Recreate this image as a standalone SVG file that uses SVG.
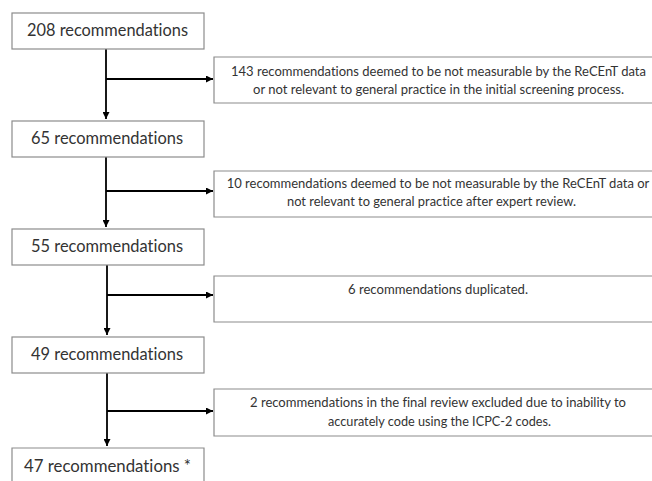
<svg xmlns="http://www.w3.org/2000/svg" width="652" height="481" viewBox="0 0 652 481">
<defs>
<marker id="ah" viewBox="0 0 10 10" refX="10" refY="5" markerWidth="8" markerHeight="7" markerUnits="userSpaceOnUse" orient="auto">
<path d="M0,0 L10,5 L0,10 z" fill="#000"/>
</marker>
<style>
.box{fill:#fff;stroke:#8c8c8c;stroke-width:1.2}
.main{font-family:Lato,"Liberation Sans",sans-serif;font-size:16.5px;fill:#333;text-anchor:middle;font-variant-ligatures:none}
.side{font-family:Lato,"Liberation Sans",sans-serif;font-size:13px;fill:#333;text-anchor:middle;font-variant-ligatures:none}
.con{stroke:#000;stroke-width:1.8;fill:none}
</style>
</defs>
<rect width="652" height="481" fill="#fff"/>
<g id="connectors">
<path class="con" d="M106,49 V119" marker-end="url(#ah)"/>
<path class="con" d="M106,79 H213" marker-end="url(#ah)"/>
<path class="con" d="M106,157 V227" marker-end="url(#ah)"/>
<path class="con" d="M106,191 H213" marker-end="url(#ah)"/>
<path class="con" d="M107,265 V335" marker-end="url(#ah)"/>
<path class="con" d="M107,295 H213" marker-end="url(#ah)"/>
<path class="con" d="M107,373 V446" marker-end="url(#ah)"/>
<path class="con" d="M107,411 H213" marker-end="url(#ah)"/>
</g>
<g id="n208">
<rect class="box" x="12" y="13" width="192" height="36"/>
<text class="main" x="107.5" y="35.5" textLength="161" lengthAdjust="spacingAndGlyphs">208 recommendations</text>
</g>
<g id="n65">
<rect class="box" x="12" y="121" width="192" height="36"/>
<text class="main" x="107" y="143.5" textLength="152" lengthAdjust="spacingAndGlyphs">65 recommendations</text>
</g>
<g id="n55">
<rect class="box" x="12" y="229" width="192" height="36"/>
<text class="main" x="107" y="251.5" textLength="152" lengthAdjust="spacingAndGlyphs">55 recommendations</text>
</g>
<g id="n49">
<rect class="box" x="12" y="337" width="192" height="36"/>
<text class="main" x="107" y="359.5" textLength="152" lengthAdjust="spacingAndGlyphs">49 recommendations</text>
</g>
<g id="n47">
<path class="box" d="M12,481 V448 H204 V481"/>
<text class="main" x="107.5" y="471.5" textLength="167" lengthAdjust="spacingAndGlyphs">47 recommendations *</text>
</g>
<g id="s143">
<path class="box" d="M652,57 H214 V103 H652"/>
<text class="side" x="438.5" y="75.5" textLength="415" lengthAdjust="spacingAndGlyphs">143 recommendations deemed to be not measurable by the ReCEnT data</text>
<text class="side" x="438.5" y="94" textLength="371" lengthAdjust="spacingAndGlyphs">or not relevant to general practice in the initial screening process.</text>
</g>
<g id="s10">
<path class="box" d="M652,171 H214 V217 H652"/>
<text class="side" x="438" y="187.5" font-size="12">10 recommendations deemed to be not measurable by the ReCEnT data or</text>
<text class="side" x="431.5" y="206" textLength="289" lengthAdjust="spacingAndGlyphs">not relevant to general practice after expert review.</text>
</g>
<g id="s6">
<path class="box" d="M652,276 H214 V322 H652"/>
<text class="side" x="438" y="294" textLength="180" lengthAdjust="spacingAndGlyphs">6 recommendations duplicated.</text>
</g>
<g id="s2">
<path class="box" d="M652,389 H214 V436 H652"/>
<text class="side" x="438" y="407" textLength="376" lengthAdjust="spacingAndGlyphs">2 recommendations in the final review excluded due to inability to</text>
<text class="side" x="439.5" y="426" textLength="223" lengthAdjust="spacingAndGlyphs">accurately code using the ICPC-2 codes.</text>
</g>
</svg>
